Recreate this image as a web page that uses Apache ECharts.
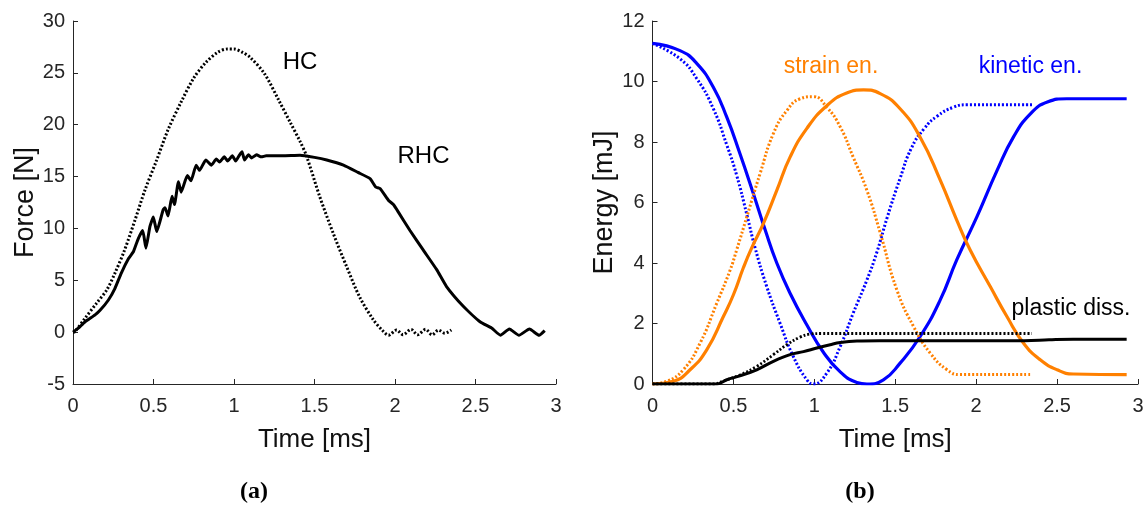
<!DOCTYPE html>
<html>
<head>
<meta charset="utf-8">
<script src="https://cdn.jsdelivr.net/npm/echarts@6/dist/echarts.min.js"></script>
<style>
html,body{margin:0;padding:0;background:#fff;}
#chart{width:1148px;height:511px;}
</style>
</head>
<body>
<div id="chart"></div>
<script>
// ---- Panel (a): Force vs time ----
var hcForce = [
  [0,0],[0.012,0.05],[0.075,1.35],[0.147,2.8],[0.21,4.07],[0.26,5.67],[0.32,7.9],
  [0.385,10.8],[0.447,13.7],[0.52,16.6],[0.59,19.5],[0.675,22.3],[0.75,24.5],
  [0.825,26.0],[0.9,27.0],[0.96,27.3],[1.0,27.3],[1.05,27.0],[1.1,26.5],[1.19,24.9],
  [1.28,22.3],[1.35,20.2],[1.41,18.4],[1.45,17.0],[1.534,13.0],[1.617,9.5],
  [1.70,6.3],[1.78,3.4],[1.865,1.2],[1.92,0.2],[1.96,-0.3],[2.01,0.2],[2.05,-0.26],
  [2.1,0.27],[2.14,-0.26],[2.19,0.27],[2.23,-0.26],[2.27,0.2],[2.31,-0.1],[2.35,0.2]
];
var rhcForce = [
  [0,0],[0.033,0.38],[0.075,1.0],[0.137,1.66],[0.168,2.1],[0.22,3.1],[0.26,4.2],
  [0.30,5.7],[0.345,7.1],[0.375,7.75],[0.405,9.0],[0.433,9.8],[0.453,8.1],[0.478,10.2],
  [0.499,11.1],[0.52,9.7],[0.56,11.8],[0.572,12.0],[0.59,11.2],[0.615,13.1],[0.63,12.3],
  [0.655,14.5],[0.672,13.5],[0.71,15.1],[0.733,14.6],[0.765,16.1],[0.786,15.6],
  [0.825,16.6],[0.86,16.1],[0.89,16.7],[0.91,16.4],[0.94,16.9],[0.96,16.5],[0.99,17.0],
  [1.01,16.5],[1.035,17.1],[1.05,17.4],[1.065,16.6],[1.09,17.1],[1.11,16.8],[1.14,17.1],
  [1.17,16.9],[1.2,17.0],[1.3,17.0],[1.41,17.05],[1.5,16.85],[1.576,16.6],[1.68,16.1],
  [1.77,15.4],[1.845,14.8],[1.88,14.0],[1.907,13.85],[1.96,12.7],[1.99,12.3],[2.02,11.6],
  [2.093,9.8],[2.176,7.9],[2.26,6.0],[2.32,4.4],[2.424,2.5],[2.528,1.0],[2.60,0.4],
  [2.655,-0.3],[2.71,0.3],[2.77,-0.3],[2.835,0.3],[2.895,-0.3],[2.93,0.15]
];
// ---- Panel (b): Energy vs time ----
var hcKinetic = [
  [0,11.26],[0.17,10.75],[0.273,10.1],[0.376,9.1],[0.459,7.9],[0.52,6.9],[0.583,5.6],
  [0.634,4.5],[0.706,3.22],[0.788,2.01],[0.87,0.91],[0.954,0.14],[0.994,0],[1.077,0.36],
  [1.16,1.24],[1.24,2.34],[1.325,3.44],[1.386,4.35],[1.45,5.5],[1.53,6.8],[1.6,7.8],
  [1.68,8.45],[1.758,8.85],[1.86,9.15],[1.943,9.23],[2.345,9.23]
];
var rhcKinetic = [
  [0,11.26],[0.17,11.02],[0.273,10.6],[0.376,9.81],[0.459,8.82],[0.54,7.62],[0.623,6.30],
  [0.696,5.1],[0.768,4.0],[0.85,3.0],[0.954,1.95],[1.056,1.05],[1.16,0.4],[1.263,0.05],
  [1.325,0],[1.427,0.14],[1.53,0.69],[1.654,1.57],[1.778,2.78],[1.88,4.1],[2.005,5.53],
  [2.13,7.07],[2.23,8.16],[2.335,8.93],[2.44,9.32],[2.56,9.43],[2.93,9.43]
];
var hcStrain = [
  [0,0],[0.088,0.09],[0.19,0.47],[0.294,1.35],[0.397,2.67],[0.48,3.77],[0.52,4.43],
  [0.583,5.53],[0.665,6.96],[0.747,8.28],[0.83,9.04],[0.912,9.43],[0.994,9.5],
  [1.077,9.15],[1.16,8.5],[1.24,7.5],[1.325,6.4],[1.407,5.0],[1.51,3.11],[1.613,1.9],
  [1.716,1.02],[1.82,0.47],[1.9,0.31],[2.345,0.31]
];
var rhcStrain = [
  [0,0],[0.129,0.09],[0.232,0.47],[0.335,1.13],[0.438,2.23],[0.5,2.95],[0.562,3.85],
  [0.613,4.5],[0.685,5.3],[0.768,6.4],[0.85,7.5],[0.954,8.45],[1.077,9.2],[1.2,9.62],
  [1.304,9.72],[1.407,9.6],[1.53,9.1],[1.654,8.16],[1.778,6.74],[1.88,5.42],[1.963,4.43],
  [2.087,3.22],[2.19,2.23],[2.293,1.35],[2.396,0.8],[2.5,0.47],[2.6,0.33],[2.93,0.31]
];
var hcPlastic = [
  [0,0],[0.38,0],[0.438,0.1],[0.54,0.3],[0.644,0.58],[0.747,0.97],[0.83,1.3],
  [0.912,1.55],[0.974,1.65],[1.05,1.67],[2.345,1.67]
];
var rhcPlastic = [
  [0,0],[0.4,0],[0.459,0.14],[0.54,0.27],[0.644,0.47],[0.747,0.75],[0.85,0.97],
  [0.933,1.07],[1.015,1.19],[1.098,1.3],[1.16,1.37],[1.263,1.42],[1.4,1.43],
  [2.3,1.43],[2.45,1.46],[2.6,1.48],[2.93,1.48]
];
var forceTicks = {min:-5, max:30, interval:5};
var energyTicks = {min:0, max:12, interval:2};
var timeTicks = {min:0, max:3, interval:0.5};

var FONT = 'Liberation Sans, Arial, sans-serif';
var AX = '#262626';
var ORANGE = '#FF8000', BLUE = '#0000FF', BLACK = '#000000';

function xAx(gi){
  return {type:'value', gridIndex:gi, min:timeTicks.min, max:timeTicks.max, interval:timeTicks.interval,
    name:'Time [ms]', nameLocation:'middle', nameGap:43,
    nameTextStyle:{fontFamily:FONT, fontSize:26, color:'#111'},
    axisLine:{show:true, onZero:false, lineStyle:{color:AX, width:1}},
    axisTick:{show:true, inside:true, length:5, lineStyle:{color:AX}},
    axisLabel:{fontFamily:FONT, fontSize:20, color:AX, margin:12},
    splitLine:{show:false}};
}
function yAx(gi, t, name, gap){
  return {type:'value', gridIndex:gi, min:t.min, max:t.max, interval:t.interval,
    name:name, nameLocation:'middle', nameGap:gap, nameRotate:90,
    nameTextStyle:{fontFamily:FONT, fontSize:27, color:'#111'},
    axisLine:{show:true, onZero:false, lineStyle:{color:AX, width:1}},
    axisTick:{show:true, inside:true, length:5, lineStyle:{color:AX}},
    axisLabel:{fontFamily:FONT, fontSize:20, color:AX, margin:8},
    splitLine:{show:false}};
}
function ser(xi, data, color, dotted, w, smooth){
  return {type:'line', xAxisIndex:xi, yAxisIndex:xi, data:data, showSymbol:false, symbol:'none',
    smooth:smooth, animation:false, silent:true,
    lineStyle:{color:color, width:w, type: dotted ? [2,2] : 'solid', cap:'butt'}};
}

var chart = echarts.init(document.getElementById('chart'), null, {renderer:'canvas'});
chart.setOption({
  backgroundColor:'#fff',
  animation:false,
  grid:[
    {left:73, top:21, width:483, height:363},
    {left:652.5, top:21, width:485.5, height:363}
  ],
  xAxis:[xAx(0), xAx(1)],
  yAxis:[yAx(0, forceTicks, 'Force [N]', 34), yAx(1, energyTicks, 'Energy [mJ]', 33)],
  series:[
    ser(0, hcForce, BLACK, true, 3, 0.3),
    ser(0, rhcForce, BLACK, false, 3, 0.15),
    ser(1, hcKinetic, BLUE, true, 3, 0.5),
    ser(1, rhcKinetic, BLUE, false, 3.2, 0.5),
    ser(1, hcStrain, ORANGE, true, 3, 0.5),
    ser(1, rhcStrain, ORANGE, false, 3.2, 0.5),
    ser(1, hcPlastic, BLACK, true, 2.8, 0.4),
    ser(1, rhcPlastic, BLACK, false, 3, 0.4)
  ],
  graphic:[
    {type:'text', x:300, y:62, style:{text:'HC', fontFamily:FONT, fontSize:24, fill:BLACK, align:'center', verticalAlign:'middle'}},
    {type:'text', x:423.5, y:156.5, style:{text:'RHC', fontFamily:FONT, fontSize:24, fill:BLACK, align:'center', verticalAlign:'middle'}},
    {type:'text', x:831, y:67, style:{text:'strain en.', fontFamily:FONT, fontSize:23, fill:ORANGE, align:'center', verticalAlign:'middle'}},
    {type:'text', x:1030.5, y:67, style:{text:'kinetic en.', fontFamily:FONT, fontSize:23, fill:BLUE, align:'center', verticalAlign:'middle'}},
    {type:'text', x:1071, y:309, style:{text:'plastic diss.', fontFamily:FONT, fontSize:23, fill:BLACK, align:'center', verticalAlign:'middle'}},
    {type:'text', x:254, y:492, style:{text:'(a)', fontFamily:'Liberation Serif, Times New Roman, serif', fontWeight:'bold', fontSize:24, fill:BLACK, align:'center', verticalAlign:'middle'}},
    {type:'text', x:860, y:492, style:{text:'(b)', fontFamily:'Liberation Serif, Times New Roman, serif', fontWeight:'bold', fontSize:24, fill:BLACK, align:'center', verticalAlign:'middle'}}
  ]
});
</script>
</body>
</html>
